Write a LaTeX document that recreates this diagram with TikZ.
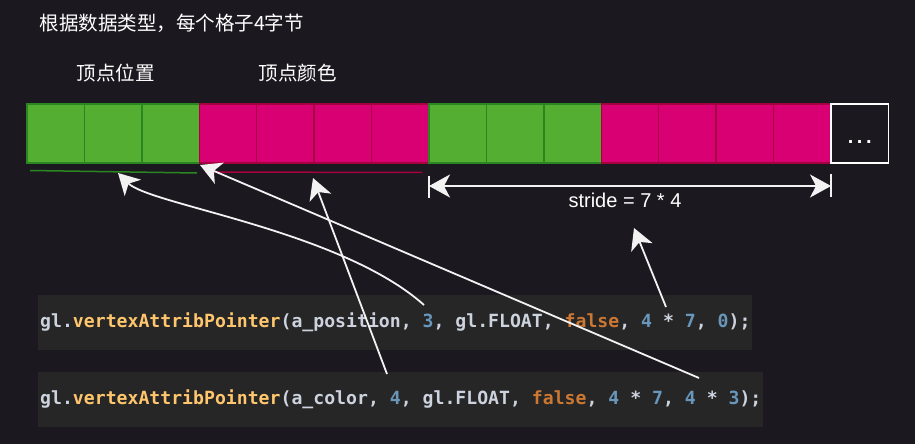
\documentclass[tikz,border=0pt]{standalone}
\usepackage{xcolor}
\usepackage{fontspec}
\usetikzlibrary{arrows.meta}
\setmainfont{Liberation Sans}
\newfontfamily\cjkfont{Noto Sans CJK SC}
\newfontfamily\codefont{DejaVu Sans Mono}

\definecolor{bgcol}{HTML}{1C1820}
\definecolor{codebg}{HTML}{262626}
\definecolor{gfill}{HTML}{54AE32}
\definecolor{gline}{HTML}{2A8620}
\definecolor{pfill}{HTML}{D80073}
\definecolor{pline}{HTML}{A50040}
\definecolor{codefg}{HTML}{CDD3DE}
\definecolor{codefn}{HTML}{FFC66D}
\definecolor{codekw}{HTML}{CC7832}
\definecolor{codenum}{HTML}{6897BB}
\definecolor{arrcol}{HTML}{F2F2F2}

\newcommand{\num}[1]{\textcolor{codenum}{#1}}
\newcommand{\fn}[1]{\textcolor{codefn}{#1}}
\newcommand{\kw}[1]{\textcolor{codekw}{#1}}

\begin{document}
\begin{tikzpicture}
    [x=1pt,y=-1pt,
    cell/.style={minimum width=57.43pt,minimum height=59pt,inner sep=0pt,outer sep=0pt,line width=1.5pt},
    gcell/.style={cell,fill=gfill,draw=gline},
    pcell/.style={cell,fill=pfill,draw=pline},
    label/.style={white,font=\cjkfont\fontsize{19.5}{22}\selectfont},
    code/.style={fill=codebg,text=codefg,anchor=west,minimum height=55pt,inner xsep=2pt,inner ysep=0pt,
        font=\codefont\bfseries\fontsize{18.15}{20}\selectfont},
    pointer/.style={-{Stealth[length=21pt,width=23pt,inset=6pt]},arrcol,line width=1.8pt},
    dim/.style={{Stealth[length=21pt,width=23pt,inset=6pt]}-{Stealth[length=21pt,width=23pt,inset=6pt]},arrcol,line width=1.8pt}]

\fill[bgcol] (0,0) rectangle (915,444);
\useasboundingbox (0,0) rectangle (915,444);

%titles
\node[label,anchor=west] (title) at (36,23.5) {根据数据类型，每个格子4字节};
\node[label] (poslbl) at (115.5,73.5) {顶点位置};
\node[label] (collbl) at (297.5,73.5) {顶点颜色};

%buffer cells
\foreach \i/\kind in {1/gcell,2/gcell,3/gcell,4/pcell,5/pcell,6/pcell,7/pcell,
                      8/gcell,9/gcell,10/gcell,11/pcell,12/pcell,13/pcell,14/pcell}
    \node[\kind,anchor=north west] (c\i) at ({27+(\i-1)*57.43},104) {};
\node[cell,fill=bgcol,draw=white,anchor=north west] (more) at (c14.north east) {};
\node[text=white,font=\bfseries\fontsize{20}{24}\selectfont,inner sep=0pt,yshift=-9pt]
    (dots) at (more.center) {.\kern3.5pt.\kern3.5pt.};

%underlines for the attributes
\draw[gline,line width=1.5pt] (30,170.5) -- (197,173);
\draw[pline,line width=1.5pt] (205,172) -- (422,172.5);

%stride
\coordinate (sl) at (c8.south west |- 0,186);
\coordinate (sr) at (c14.south east |- 0,186);
\draw[arrcol,line width=1.5pt] (429,176) -- (429,198);
\draw[arrcol,line width=1.5pt] (831,174) -- (831,197);
\draw[dim] (sl) -- (sr);
\node[white,font=\fontsize{20}{24}\selectfont] (stride) at (625,200.5) {stride = 7 * 4};

%code lines
\node[code] (code1) at (38,322.5)
    {gl.\fn{vertexAttribPointer}(a\_position, \num{3}, gl.FLOAT, \kw{false}, \num{4} * \num{7}, \num{0});};
\node[code] (code2) at (38,399.5)
    {gl.\fn{vertexAttribPointer}(a\_color, \num{4}, gl.FLOAT, \kw{false}, \num{4} * \num{7}, \num{4} * \num{3});};

%pointer ends
\coordinate (size1) at (424,305);
\coordinate (size2) at (387,374);
\coordinate (stride1) at (666,307);
\coordinate (offset2) at (699,378);
\coordinate (gtip) at (118,173);
\coordinate (ptip) at (313,178);
\coordinate (otip) at (200,165);
\coordinate (stip) at (634,228);

%pointers
\draw[pointer] (size1) .. controls (340,230) and (150,205) .. (gtip);
\draw[pointer] (size2) -- (ptip);
\draw[pointer] (offset2) -- (otip);
\draw[pointer] (stride1) -- (stip);

\end{tikzpicture}
\end{document}
